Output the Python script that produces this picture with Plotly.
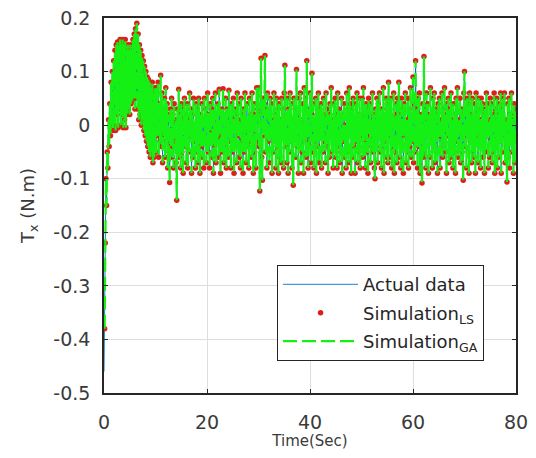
import plotly.graph_objects as go

# Sample interval (s)
dt = 0.125

# T_x (N.m) actual data, one value per 0.125 s from t = 0
tx_transient = [
    -0.46, -0.38, -0.22, -0.10, -0.15, -0.05, -0.08, 0.01,
    -0.04, 0.04, -0.02, 0.08, 0.0, 0.10, -0.01, 0.12,
    0.00, 0.14, -0.01, 0.15, 0.02, 0.155, -0.005, 0.15,
    0.03, 0.16, 0.00, 0.155, 0.02, 0.16, -0.005, 0.15,
    0.01, 0.16, -0.005, 0.14, 0.02, 0.15, 0.03, 0.14,
    0.02, 0.15, 0.04, 0.14, 0.045, 0.16, 0.05, 0.17,
    0.03, 0.18, 0.05, 0.19, 0.03, 0.17, 0.01, 0.15,
    0.02, 0.14, 0.00, 0.13, 0.01, 0.12, -0.01, 0.11,
    -0.02, 0.10, -0.03, 0.09, -0.04, 0.085, -0.05, 0.08,
    -0.06, 0.07, -0.05, 0.08, -0.07, 0.06, -0.06, 0.07,
    -0.05,
]
tx_steady = [
    -0.05, 0.07, -0.02, 0.08, -0.06, 0.04, -0.03, 0.093,
    -0.04, 0.06, -0.07, 0.03, -0.02, 0.05, -0.06, 0.07,
    -0.03, 0.04, -0.08, 0.02, -0.05, -0.107, 0.03, -0.04,
    0.05, -0.06, 0.02, -0.08, 0.04, -0.03, 0.01, -0.07,
    -0.14, 0.03, -0.05, 0.067, -0.06, 0.02, -0.08, 0.04,
    -0.05, 0.03, -0.09, 0.01, 0.05, -0.04, 0.02, -0.07,
    0.04, -0.08, 0.01, -0.05, 0.06, -0.02, 0.03, -0.09,
    0.02, -0.06, 0.05, -0.03, 0.00, -0.08, 0.04, -0.05,
    0.03, -0.07, 0.05, -0.02, -0.09, 0.02, -0.04, 0.04,
    -0.06, 0.01, -0.08, 0.05, -0.03, 0.03, -0.07, 0.02,
    0.06, -0.05, 0.02, -0.08, 0.04, -0.01, 0.03, -0.06,
    0.05, -0.09, 0.01, -0.04, 0.06, -0.07, 0.02, -0.03,
    0.04, -0.06, 0.067, -0.02, -0.09, 0.03, -0.05, 0.01,
    0.068, -0.07, 0.02, -0.04, 0.05, -0.08, 0.03, -0.02,
    -0.06, 0.065, -0.03, 0.02, -0.08, 0.04, -0.05, 0.01,
    0.05, -0.09, 0.03, -0.04, 0.02, -0.07, 0.06, -0.02,
    0.04, -0.06, 0.01, -0.08, 0.05, -0.03, 0.02, -0.09,
    0.03, -0.05, 0.06, -0.02, -0.07, 0.04, -0.04, 0.01,
    -0.08, 0.05, -0.03, 0.02, -0.06, 0.06, -0.01, -0.09,
    0.04, -0.05, 0.02, -0.08, 0.07, -0.03, 0.03, 0.07,
    -0.04, -0.123, 0.02, 0.125, -0.06, -0.103, 0.05, -0.02,
    0.04, 0.13, -0.05, 0.03, -0.08, 0.06, -0.03, 0.02,
    -0.07, 0.05, -0.02, 0.04, -0.09, 0.01, -0.05, 0.06,
    -0.03, 0.02, -0.08, 0.05, -0.04, 0.03, -0.09, 0.04,
    -0.06, 0.01, -0.07, 0.05, -0.02, 0.03, -0.08, 0.06,
    0.112, -0.04, 0.02, -0.07, 0.05, -0.09, 0.03, -0.05,
    0.06, -0.03, 0.04, -0.08, 0.01, -0.112, 0.05, -0.02,
    0.03, -0.06, 0.104, -0.04, 0.02, -0.09, 0.05, -0.03,
    0.06, -0.07, 0.01, -0.05, 0.04, -0.09, 0.07, -0.02,
    0.05, -0.06, 0.12, -0.03, -0.08, 0.03, -0.04, 0.06,
    -0.07, 0.02, 0.097, -0.05, 0.04, -0.08, 0.01, -0.03,
    0.05, -0.09, 0.02, -0.04, 0.06, -0.07, 0.03, -0.02,
    0.04, -0.08, 0.01, -0.05, 0.05, -0.03, 0.02, -0.07,
    0.06, -0.04, 0.03, -0.09, 0.02, -0.06, 0.04, -0.02,
    0.07, -0.05, 0.01, -0.08, 0.04, -0.03, 0.05, -0.06,
    0.02, -0.08, 0.06, -0.04, 0.03, -0.07, 0.01, -0.05,
    0.05, -0.09, 0.02, -0.03, 0.04, -0.06, 0.00, -0.08,
    0.06, -0.05, 0.03, -0.07, 0.07, -0.02, 0.04, -0.09,
    0.03, -0.06, 0.05, -0.04, 0.01, -0.09, 0.04, -0.03,
    0.06, -0.07, 0.02, -0.05, 0.05, -0.08, 0.01, -0.02,
    0.05, -0.06, 0.07, -0.03, 0.02, -0.08, 0.04, -0.05,
    0.03, -0.09, 0.05, -0.02, 0.04, -0.07, 0.01, -0.04,
    0.06, -0.05, 0.02, -0.08, -0.10, 0.03, -0.04, 0.05,
    -0.07, 0.04, -0.02, 0.06, -0.05, 0.01, -0.08, 0.03,
    -0.04, 0.07, -0.09, 0.02, -0.03, 0.05, -0.06, 0.04,
    -0.07, 0.08, -0.02, 0.03, -0.06, 0.05, -0.08, 0.01,
    -0.04, 0.06, -0.09, 0.02, -0.05, 0.04, -0.07, 0.05,
    -0.03, 0.08, -0.06, 0.02, -0.08, 0.05, -0.04, 0.03,
    -0.09, 0.04, -0.02, 0.06, -0.07, 0.01, -0.05, 0.05,
    -0.08, 0.03, -0.04, 0.07, -0.06, 0.02, -0.03, 0.09,
    -0.07, 0.04, -0.05, 0.12, -0.02, 0.03, -0.08, 0.05,
    -0.04, 0.06, -0.09, 0.02, -0.03, -0.108, 0.04, -0.06,
    0.128, -0.05, 0.03, -0.08, 0.06, -0.02, 0.04, -0.09,
    0.02, -0.06, 0.07, -0.03, 0.01, -0.08, 0.05, -0.04,
    0.06, -0.07, 0.03, -0.05, 0.02, -0.09, 0.04, -0.02,
    0.05, -0.08, 0.01, -0.04, 0.06, -0.06, 0.03, -0.03,
    0.07, -0.05, 0.02, -0.09, 0.04, -0.02, 0.05, -0.07,
    0.03, -0.06, 0.06, -0.04, 0.01, -0.08, 0.04, -0.05,
    0.02, -0.09, 0.05, -0.03, 0.07, -0.06, 0.01, -0.04,
    0.05, -0.07, 0.03, -0.05, 0.02, -0.103, 0.06, 0.10,
    -0.04, 0.03, -0.08, 0.05, -0.02, 0.04, -0.09, 0.06,
    -0.03, 0.02, -0.07, 0.05, -0.05, 0.01, -0.06, 0.04,
    -0.09, 0.06, -0.02, 0.03, -0.07, 0.05, -0.04, 0.01,
    -0.08, 0.05, -0.03, 0.04, -0.06, 0.02, -0.09, 0.03,
    -0.05, 0.06, -0.02, 0.04, -0.08, 0.01, -0.06, 0.05,
    -0.03, 0.04, -0.07, 0.02, -0.05, 0.06, -0.09, 0.03,
    -0.04, 0.05, -0.08, 0.02, -0.06, 0.04, -0.03, 0.06,
    -0.09, 0.03, -0.05, 0.05, -0.02, 0.06, -0.07, 0.01,
    -0.04, -0.106, 0.04, -0.06, 0.05, -0.08, 0.02, -0.03,
    0.06, -0.05, 0.01, -0.09, 0.04, -0.07, 0.03, -0.02,
]
tx_actual = tx_transient + tx_steady
time_actual = [i * dt for i in range(len(tx_actual))]

# Both simulations follow the measured data from the second sample on
tx_sim_ls = tx_actual[1:]
tx_sim_ga = tx_actual[1:]
time_sim = time_actual[1:]

x_ticks = [0, 20, 40, 60, 80]
y_ticks = [-0.5, -0.4, -0.3, -0.2, -0.1, 0, 0.1, 0.2]
y_tick_text = ["-0.5", "-0.4", "-0.3", "-0.2", "-0.1", "0", "0.1", "0.2"]

FONT = "DejaVu Sans, Arial"
TXT = "#3a3a3a"

fig = go.Figure()
fig.add_trace(go.Scatter(
    x=time_actual, y=tx_actual, mode="lines", name="Actual data",
    line=dict(color="#0072BD", width=0.9), legendgroup="a",
))
fig.add_trace(go.Scatter(
    x=time_sim, y=tx_sim_ls, mode="markers", name="Simulation<sub>LS</sub>",
    marker=dict(color="#DD1F1A", size=5.5, line=dict(width=0)), legendgroup="b",
))
fig.add_trace(go.Scatter(
    x=time_sim, y=tx_sim_ga, mode="lines", name="Simulation<sub>GA</sub>",
    line=dict(color="#14F014", width=2.2, dash="14px,5px"), legendgroup="c",
))

axis_common = dict(
    showline=True, linecolor="#262626", linewidth=1.5, mirror="allticks",
    ticks="inside", ticklen=4, tickcolor="#262626",
    showgrid=True, gridcolor="#DEDEDE", gridwidth=1, zeroline=False,
    tickfont=dict(family=FONT, size=19, color=TXT),
    automargin=False, ticklabeloverflow="allow",
)

fig.update_layout(
    template="none",
    width=520, height=442,
    margin=dict(l=96, r=12, t=10, b=57),
    paper_bgcolor="white", plot_bgcolor="white",
    xaxis=dict(range=[0, 80], tickvals=x_ticks, ticklabelstandoff=11,
               title=dict(text="Time(Sec)", standoff=6,
                          font=dict(family=FONT, size=15, color=TXT)),
               **axis_common),
    yaxis=dict(range=[-0.5, 0.2], tickvals=y_ticks, ticktext=y_tick_text,
               ticklabelstandoff=8,
               title=dict(text="T<sub>x</sub> (N.m)", standoff=14,
                          font=dict(family=FONT, size=18, color=TXT)),
               **axis_common),
    legend=dict(
        x=0.42, y=0.341, xanchor="left", yanchor="top",
        bgcolor="white", bordercolor="#262626", borderwidth=1,
        font=dict(family=FONT, size=18, color="#262626"),
        itemwidth=75, traceorder="grouped", tracegroupgap=2,
    ),
    showlegend=True,
)

fig.write_html("out.html")
